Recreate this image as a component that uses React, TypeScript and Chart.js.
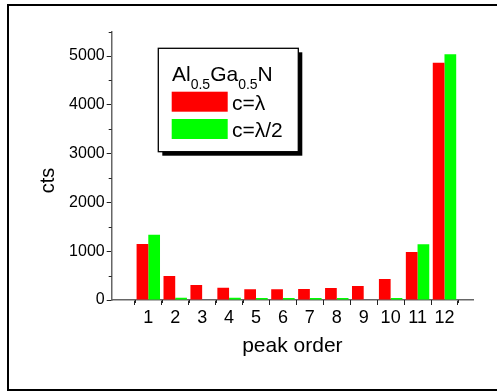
import React, { useEffect, useRef } from "react";
import { Chart, registerables } from "chart.js";

Chart.register(...registerables);

const peaks = [1, 2, 3, 4, 5, 6, 7, 8, 9, 10, 11, 12];
const seriesLambda = [1148, 492, 307, 252, 222, 219, 224, 246, 287, 430, 983, 4863];
const seriesHalfLambda = [1338, 45, 0, 45, 42, 40, 40, 40, 0, 40, 1140, 5035];
const yMajorTicks = [0, 1000, 2000, 3000, 4000, 5000];
const yMinorTicks = [500, 1500, 2500, 3500, 4500, 5500];
const xMinorTicks = [0.5, 1.5, 2.5, 3.5, 4.5, 5.5, 6.5, 7.5, 8.5, 9.5, 10.5, 11.5, 12.5];
const legendTitle = [
  { t: "Al", sub: false },
  { t: "0.5", sub: true },
  { t: "Ga", sub: false },
  { t: "0.5", sub: true },
  { t: "N", sub: false },
];
const seriesLabels = ["c=λ", "c=λ/2"];
const seriesColors = ["#ff0000", "#00ff00"];

const FONT = "'Liberation Sans', Arial, sans-serif";

const decorPlugin = {
  id: "decor",
  afterDraw(chart: any) {
    const ctx = chart.ctx as CanvasRenderingContext2D;
    const xs = chart.scales.x;
    const ys = chart.scales.y;
    const area = chart.chartArea;
    ctx.save();
    // minor ticks
    ctx.strokeStyle = "#222";
    ctx.lineWidth = 1;
    ctx.beginPath();
    for (const v of xMinorTicks) {
      const px = Math.round(xs.getPixelForValue(v)) + 0.5;
      ctx.moveTo(px, area.bottom);
      ctx.lineTo(px, area.bottom + 3);
    }
    for (const v of yMinorTicks) {
      const py = Math.round(ys.getPixelForValue(v)) + 0.5;
      ctx.moveTo(area.left - 3, py);
      ctx.lineTo(area.left, py);
    }
    ctx.stroke();

    // outer frame
    ctx.strokeStyle = "#000";
    ctx.lineWidth = 2;
    ctx.strokeRect(8, 5, 520, 385);

    // y title
    ctx.save();
    ctx.translate(48, 180.5);
    ctx.rotate(-Math.PI / 2);
    ctx.font = `20px ${FONT}`;
    ctx.fillStyle = "#000";
    ctx.textAlign = "center";
    ctx.textBaseline = "middle";
    ctx.fillText("cts", 0, 0);
    ctx.restore();

    // legend
    const bx = 158.3, by = 48.3, bw = 140, bh = 103.4;
    ctx.fillStyle = "#000";
    ctx.fillRect(bx + 4, by + 4, bw, bh);
    ctx.fillStyle = "#fff";
    ctx.fillRect(bx, by, bw, bh);
    ctx.lineWidth = 1.3;
    ctx.strokeStyle = "#000";
    ctx.strokeRect(bx, by, bw, bh);

    ctx.fillStyle = "#000";
    ctx.textAlign = "left";
    ctx.textBaseline = "alphabetic";
    let tx = 172;
    for (const part of legendTitle) {
      ctx.font = part.sub ? `14px ${FONT}` : `21px ${FONT}`;
      ctx.fillText(part.t, tx, part.sub ? 88.5 : 81);
      tx += ctx.measureText(part.t).width;
    }
    const swY = [91.7, 119];
    for (let i = 0; i < seriesLabels.length; i++) {
      ctx.fillStyle = seriesColors[i];
      ctx.fillRect(171.7, swY[i], 56, 20);
      ctx.fillStyle = "#000";
      ctx.font = `21px ${FONT}`;
      ctx.fillText(seriesLabels[i], 232, swY[i] + 18);
    }
    ctx.restore();
  },
};

export default function App() {
  const ref = useRef<HTMLCanvasElement | null>(null);
  useEffect(() => {
    if (!ref.current) return;
    const chart = new Chart(ref.current, {
      type: "bar",
      data: {
        datasets: [
          {
            label: seriesLabels[0],
            data: peaks.map((p, i) => ({ x: p, y: seriesLambda[i] })),
            backgroundColor: seriesColors[0],
            borderWidth: 0,
          },
          {
            label: seriesLabels[1],
            data: peaks.map((p, i) => ({ x: p, y: seriesHalfLambda[i] })),
            backgroundColor: seriesColors[1],
            borderWidth: 0,
          },
        ],
      },
      options: {
        responsive: false,
        animation: false,
        devicePixelRatio: 1,
        layout: { padding: { left: 0, top: 31.6, right: 24, bottom: 0 } },
        datasets: { bar: { categoryPercentage: 0.87, barPercentage: 1 } },
        plugins: { legend: { display: false }, tooltip: { enabled: false } },
        scales: {
          x: {
            type: "linear",
            min: 0.2,
            max: 12.5,
            afterBuildTicks: (scale: any) => {
              scale.ticks = peaks.map((v) => ({ value: v }));
            },
            afterFit: (scale: any) => {
              scale.height = 91;
            },
            grid: { drawOnChartArea: false, tickLength: 5, color: "#222" },
            border: { display: true, color: "#666", width: 1.5 },
            ticks: {
              font: { family: FONT, size: 18 },
              color: "#000",
              padding: 2,
              maxRotation: 0,
              autoSkip: false,
              callback: (v: any) => String(v),
            },
            title: {
              display: true,
              text: "peak order",
              font: { family: FONT, size: 21 },
              color: "#000",
              padding: { top: 0, bottom: 32 },
            },
          },
          y: {
            type: "linear",
            min: 0,
            max: 5500,
            afterBuildTicks: (scale: any) => {
              scale.ticks = yMajorTicks.map((v) => ({ value: v }));
            },
            afterFit: (scale: any) => {
              scale.width = 111.7;
            },
            grid: { drawOnChartArea: false, tickLength: 5, color: "#222" },
            border: { display: true, color: "#666", width: 1.5 },
            ticks: {
              font: { family: FONT, size: 16 },
              color: "#000",
              padding: 2,
              callback: (v: any) => String(v),
            },
          },
        },
      },
      plugins: [decorPlugin],
    } as any);
    return () => chart.destroy();
  }, []);
  return (
    <div style={{ position: "absolute", left: 0, top: 0, width: 497, height: 391, background: "#fff" }}>
      <canvas ref={ref} width={497} height={391} style={{ display: "block" }} />
    </div>
  );
}
